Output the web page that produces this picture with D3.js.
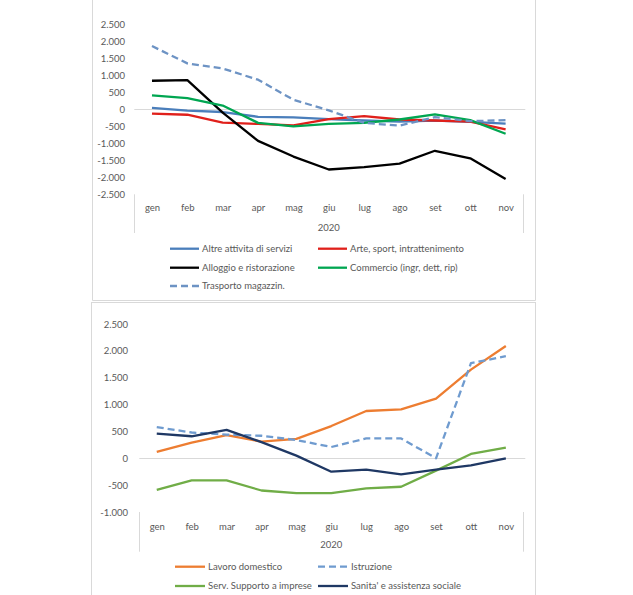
<!DOCTYPE html>
<html><head><meta charset="utf-8">
<script src="https://cdn.jsdelivr.net/npm/d3@7"></script>
<style>
html,body{margin:0;padding:0;background:#fff;}
svg text{font-family:Lato,"Open Sans",sans-serif;fill:#595959;}
</style></head>
<body>
<svg id="chart" width="633" height="595"></svg>
<script>
const months = ["gen","feb","mar","apr","mag","giu","lug","ago","set","ott","nov"];
const yearLabel = "2020";

// Top chart
const topTicks = [-2500,-2000,-1500,-1000,-500,0,500,1000,1500,2000,2500];
const altre      = [40,-40,-80,-220,-240,-290,-330,-360,-330,-370,-420];
const arte       = [-130,-160,-390,-430,-470,-290,-200,-300,-330,-360,-590];
const alloggio   = [840,860,-100,-930,-1390,-1770,-1700,-1600,-1220,-1440,-2050];
const commercio  = [410,330,110,-400,-500,-430,-400,-300,-150,-320,-720];
const trasporto  = [1860,1350,1200,870,280,-30,-400,-480,-230,-350,-320];

// Bottom chart
const botTicks = [-1000,-500,0,500,1000,1500,2000,2500];
const lavoro     = [120,290,430,310,360,600,880,910,1110,1650,2090];
const istruzione = [580,480,440,420,340,210,370,370,0,1770,1900];
const supporto   = [-590,-410,-410,-600,-650,-650,-560,-530,-230,80,200];
const sanita     = [460,410,530,300,50,-250,-210,-300,-210,-130,0];

const topSeries = [
  {name:"Altre attivita di servizi", values:altre, color:"#4a7ebb", dash:null},
  {name:"Arte, sport, intrattenimento", values:arte, color:"#e0201b", dash:null},
  {name:"Alloggio e ristorazione", values:alloggio, color:"#000000", dash:null},
  {name:"Commercio (ingr, dett, rip)", values:commercio, color:"#00a651", dash:null},
  {name:"Trasporto magazzin.", values:trasporto, color:"#6d93c4", dash:"7,4"}
];
const botSeries = [
  {name:"Lavoro domestico", values:lavoro, color:"#ed7d31", dash:null},
  {name:"Istruzione", values:istruzione, color:"#6f9bcf", dash:"7,4"},
  {name:"Serv. Supporto a imprese", values:supporto, color:"#70ad47", dash:null},
  {name:"Sanita' e assistenza sociale", values:sanita, color:"#1f3864", dash:null}
];

const locale = d3.formatLocale({decimal:",", thousands:".", grouping:[3], currency:["€",""], minus:"-"});
const fmt = locale.format(",d");

const svg = d3.select("#chart");

// panel borders
const border = "#d9d9d9";
svg.append("line").attr("x1",92.5).attr("x2",92.5).attr("y1",0).attr("y2",300.5).attr("stroke",border);
svg.append("line").attr("x1",535.5).attr("x2",535.5).attr("y1",0).attr("y2",300.5).attr("stroke",border);
svg.append("line").attr("x1",92.5).attr("x2",535.5).attr("y1",300.5).attr("y2",300.5).attr("stroke",border);
svg.append("line").attr("x1",91.5).attr("x2",91.5).attr("y1",302).attr("y2",595).attr("stroke",border);
svg.append("line").attr("x1",535.5).attr("x2",535.5).attr("y1",302).attr("y2",595).attr("stroke",border);
svg.append("line").attr("x1",91.5).attr("x2",535.5).attr("y1",302.5).attr("y2",302.5).attr("stroke",border);

function drawChart(cfg){
  const g = svg.append("g");
  const x = d3.scalePoint().domain(months).range([cfg.left, cfg.right]).padding(0.5);
  const y = d3.scaleLinear().domain(cfg.domain).range(cfg.yRange);

  // y labels
  const ya = g.append("g").attr("transform",`translate(${cfg.labelX},0)`)
    .call(d3.axisLeft(y).tickValues(cfg.ticks).tickFormat(fmt).tickSize(0).tickPadding(0));
  ya.select(".domain").remove();
  ya.selectAll("text").attr("font-size","9.5px").attr("fill","#595959")
    .style("font-family","Lato, sans-serif");

  // zero line
  g.append("line").attr("x1",cfg.left).attr("x2",cfg.right+2)
    .attr("y1",Math.round(y(0))+0.5).attr("y2",Math.round(y(0))+0.5)
    .attr("stroke","#d9d9d9").attr("stroke-width",1);

  // category axis edges
  [cfg.left, cfg.right].forEach(px=>{
    g.append("line").attr("x1",Math.round(px)+0.5).attr("x2",Math.round(px)+0.5)
      .attr("y1",cfg.yRange[0]).attr("y2",cfg.axisBottom)
      .attr("stroke","#d9d9d9").attr("stroke-width",1);
  });

  // month labels
  const xa = g.append("g").attr("transform",`translate(0,${cfg.monthY})`)
    .call(d3.axisBottom(x).tickSize(0).tickPadding(0));
  xa.select(".domain").remove();
  xa.selectAll("text").attr("font-size","9.5px").attr("dy","0.35em").attr("y",0)
    .style("font-family","Lato, sans-serif");

  g.append("text").attr("x",(cfg.left+cfg.right)/2).attr("y",cfg.yearY).attr("dy","0.35em")
    .attr("text-anchor","middle").attr("font-size","9.5px").text(yearLabel);

  const line = d3.line().x((d,i)=>x(months[i])).y(d=>y(d));
  cfg.series.forEach(s=>{
    g.append("path").datum(s.values).attr("d",line).attr("fill","none")
      .attr("stroke",s.color).attr("stroke-width",2.3)
      .attr("stroke-linejoin","round")
      .attr("stroke-dasharray",s.dash);
  });

  // legend
  cfg.series.forEach((s,i)=>{
    const col = i%2, row = Math.floor(i/2);
    const lx = cfg.legCols[col], ly = cfg.legRows[row];
    g.append("line").attr("x1",lx).attr("x2",lx+cfg.legLen).attr("y1",ly).attr("y2",ly)
      .attr("stroke",s.color).attr("stroke-width",2.3).attr("stroke-dasharray",s.dash);
    g.append("text").attr("x",lx+cfg.legLen+3).attr("y",ly).attr("dy","0.35em")
      .attr("font-size","9.5px").text(s.name);
  });
}

drawChart({
  left:134.3, right:523.3, domain:[-2500,2500], yRange:[194.3,24.3],
  ticks:topTicks, labelX:125, axisBottom:233, monthY:208, yearY:228,
  series:topSeries, legCols:[170,318], legRows:[248.7,267.7,286], legLen:29
});
drawChart({
  left:139.3, right:523.3, domain:[-1000,2500], yRange:[512,324],
  ticks:botTicks, labelX:128, axisBottom:551.7, monthY:527, yearY:545,
  series:botSeries, legCols:[175,318], legRows:[566.7,586], legLen:30
});
</script>
</body></html>
